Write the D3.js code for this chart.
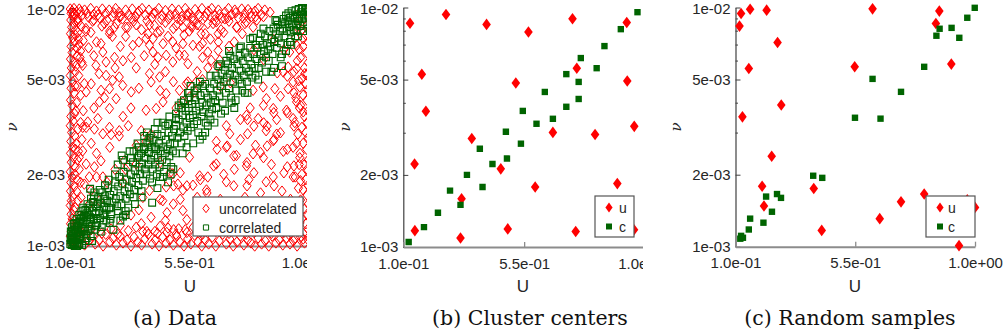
<!DOCTYPE html>
<html>
<head>
<meta charset="utf-8">
<script src="https://cdn.jsdelivr.net/npm/d3@7/dist/d3.min.js"></script>
<style>
  body { margin: 0; background: #fff; }
  svg { display: block; }
</style>
</head>
<body>
<svg id="fig" width="1008" height="336"></svg>
<script>
// nu values below are written in units of 1e-3 (so 2.5 means 2.5e-03)
const NU_UNIT = 1e-3;

// (a) Data -- uncorrelated samples [U, nu]
const dataUncorrelated = [
  // left edge
  [0.101,9.9],[0.104,9.5],[0.108,9.7],[0.112,9.2],[0.103,8.9],[0.115,8.6],[0.106,8.3],[0.121,8.1],[0.102,7.8],[0.110,7.5],
  [0.117,7.2],[0.104,6.9],[0.125,6.8],[0.108,6.5],[0.102,6.1],[0.114,5.9],[0.105,5.6],[0.120,5.4],[0.101,5.2],[0.110,4.9],
  [0.104,4.6],[0.116,4.4],[0.102,4.1],[0.108,3.9],[0.122,3.7],[0.103,3.5],[0.112,3.35],[0.101,3.2],[0.106,3.0],[0.118,2.9],
  [0.103,2.75],[0.110,2.6],[0.102,2.45],[0.114,2.35],[0.105,2.25],[0.120,2.15],[0.101,2.05],[0.108,1.95],[0.103,1.85],[0.116,1.78],
  [0.102,1.7],[0.110,1.62],[0.105,1.55],[0.101,1.48],[0.113,1.42],[0.104,1.36],[0.108,1.3],[0.102,1.24],[0.118,1.2],[0.105,1.15],
  [0.101,1.1],[0.111,1.06],[0.103,1.02],[0.13,9.0],[0.135,7.0],[0.128,4.7],[0.132,2.5],[0.127,1.9],[0.138,6.2],[0.14,3.3],
  [0.118,9.4],[0.126,8.9],[0.142,8.4],[0.12,7.7],[0.132,7.4],[0.127,6.3],[0.145,5.9],[0.122,5.7],[0.133,5.2],[0.119,4.7],
  [0.14,4.3],[0.125,4.0],[0.15,3.7],[0.117,3.6],[0.13,3.1],[0.145,2.8],[0.12,2.55],[0.128,2.3],[0.118,2.0],[0.14,1.85],
  [0.125,1.7],[0.13,1.55],[0.12,1.45],[0.135,1.33],[0.125,1.25],[0.14,1.15],[0.122,1.08],
  // top edge
  [0.115,9.95],[0.125,9.6],[0.135,9.9],[0.145,9.3],[0.155,9.8],[0.165,9.5],[0.178,9.95],[0.19,9.4],[0.2,9.7],[0.212,9.1],
  [0.222,9.9],[0.235,9.5],[0.248,9.8],[0.26,9.2],[0.272,9.95],[0.285,9.6],[0.298,9.0],[0.31,9.8],[0.322,9.4],[0.335,9.9],
  [0.348,9.2],[0.36,9.7],[0.372,9.95],[0.385,9.35],[0.398,9.8],[0.41,9.1],[0.422,9.6],[0.435,9.95],[0.448,9.3],[0.46,9.75],
  [0.472,9.0],[0.485,9.9],[0.498,9.45],[0.51,9.8],[0.522,9.2],[0.535,9.95],[0.548,9.55],[0.56,9.1],[0.572,9.85],[0.585,9.4],
  [0.598,9.95],[0.61,9.2],[0.622,9.7],[0.635,9.95],[0.648,9.3],[0.66,9.8],[0.672,9.05],[0.685,9.6],[0.698,9.95],[0.71,9.4],
  [0.722,9.8],[0.735,9.1],[0.748,9.9],[0.76,9.5],[0.772,9.85],[0.785,9.2],[0.798,9.7],[0.81,9.95],[0.822,9.4],[0.835,9.8],
  [0.13,8.7],[0.16,8.2],[0.185,8.8],[0.22,8.4],[0.25,8.0],[0.275,8.6],[0.31,8.3],[0.34,8.8],[0.37,8.1],[0.4,8.5],
  [0.43,7.9],[0.46,8.7],[0.49,8.2],[0.52,8.9],[0.55,8.0],[0.58,8.5],[0.61,7.8],[0.64,8.6],[0.67,8.1],[0.70,8.8],[0.73,8.3],[0.76,8.6],
  [0.112,9.45],[0.14,9.65],[0.17,9.15],[0.205,9.35],[0.24,8.9],[0.265,9.55],[0.292,9.25],[0.33,9.05],[0.355,9.5],[0.39,8.85],
  [0.415,9.5],[0.445,8.95],[0.478,9.35],[0.505,9.05],[0.54,9.35],[0.565,8.8],[0.59,9.2],[0.615,9.5],[0.645,8.9],[0.665,9.4],
  [0.695,9.1],[0.725,9.55],[0.755,9.05],[0.78,9.5],[0.805,8.9],[0.83,9.2],[0.855,9.6],
  // bottom edge
  [0.13,1.03],[0.14,1.08],[0.155,1.01],[0.17,1.05],[0.185,1.1],[0.195,1.02],[0.21,1.06],[0.225,1.0],[0.235,1.12],[0.25,1.04],
  [0.262,1.08],[0.275,1.01],[0.29,1.1],[0.3,1.03],[0.315,1.06],[0.33,1.0],[0.342,1.09],[0.355,1.04],[0.37,1.01],[0.382,1.07],
  [0.395,1.12],[0.41,1.02],[0.422,1.06],[0.436,1.0],[0.45,1.09],[0.462,1.03],[0.477,1.06],[0.49,1.01],[0.503,1.1],[0.515,1.04],
  [0.53,1.0],[0.544,1.07],[0.556,1.02],[0.57,1.11],[0.583,1.04],[0.597,1.0],[0.61,1.06],[0.623,1.02],[0.637,1.09],[0.65,1.0],
  [0.663,1.05],[0.676,1.12],[0.69,1.02],[0.703,1.07],[0.716,1.0],[0.73,1.04],[0.743,1.1],[0.756,1.01],[0.77,1.06],[0.783,1.03],
  [0.797,1.0],[0.81,1.08],[0.823,1.02],[0.837,1.05],[0.85,1.0],[0.863,1.1],[0.877,1.03],[0.89,1.06],[0.903,1.01],[0.917,1.08],
  [0.93,1.02],[0.943,1.05],[0.957,1.0],[0.97,1.09],[0.985,1.03],[0.998,1.06],
  [0.145,1.14],[0.18,1.17],[0.22,1.13],[0.255,1.18],[0.28,1.12],[0.32,1.16],[0.35,1.2],[0.39,1.15],[0.43,1.13],[0.47,1.19],
  [0.5,1.12],[0.535,1.17],[0.565,1.2],[0.6,1.12],[0.63,1.16],[0.66,1.2],[0.7,1.13],[0.735,1.18],[0.765,1.12],[0.8,1.16],
  [0.83,1.21],[0.86,1.13],[0.895,1.17],[0.925,1.12],[0.96,1.17],[0.98,1.07],
  // right edge
  [0.998,9.7],[0.985,9.0],[0.995,8.5],[0.975,8.1],[0.99,7.7],[0.998,7.2],[0.98,6.9],[0.993,6.5],[0.97,6.2],[0.999,5.9],
  [0.985,5.6],[0.995,5.3],[0.975,5.05],[0.99,4.8],[0.998,4.55],[0.98,4.3],[0.994,4.1],[0.97,3.9],[0.999,3.7],[0.985,3.5],
  [0.995,3.3],[0.975,3.15],[0.99,3.0],[0.998,2.85],[0.98,2.7],[0.993,2.55],[0.968,2.45],[0.999,2.3],[0.985,2.2],[0.995,2.1],
  [0.975,2.0],[0.99,1.9],[0.998,1.8],[0.98,1.72],[0.994,1.64],[0.97,1.56],[0.999,1.5],[0.985,1.43],[0.995,1.36],[0.975,1.3],
  [0.99,1.24],[0.998,1.18],[0.98,1.13],
  [0.955,9.3],[0.962,8.2],[0.95,7.5],[0.965,6.7],[0.958,6.0],[0.945,5.4],[0.963,4.95],[0.952,4.2],[0.966,3.8],[0.948,3.3],
  [0.96,2.95],[0.955,2.7],[0.965,2.2],[0.95,1.95],[0.962,1.75],[0.955,1.45],[0.968,1.25],[0.95,1.08],
  // interior
  [0.179,7.9],[0.217,7.08],[0.249,7.8],[0.268,8.3],[0.286,9.2],[0.318,8.3],[0.337,6.97],[0.331,6.2],[0.268,6.2],[0.236,5.93],
  [0.224,6.53],[0.198,5.74],[0.261,4.97],[0.236,5.21],[0.286,5.13],[0.299,4.73],[0.331,4.44],[0.249,4.58],[0.217,4.51],[0.211,4.03],
  [0.249,3.78],[0.274,4.16],[0.387,3.72],[0.205,3.43],[0.167,3.32],[0.148,5.74],[0.154,4.81],[0.161,4.44],[0.394,7.8],[0.387,7.43],
  [0.413,7.43],[0.419,8.45],[0.4,6.97],[0.413,6.53],[0.432,6.2],[0.451,7.08],[0.463,6.33],[0.488,7.2],[0.488,5.93],[0.513,6.33],
  [0.532,6.33],[0.526,7.08],[0.526,8.3],[0.501,8.45],[0.4,5.3],[0.406,4.89],[0.438,5.13],[0.463,4.37],[0.513,4.51],[0.539,4.81],
  [0.451,4.03],[0.425,3.78],[0.526,4.03],
  [0.545,9.3],[0.558,8.45],[0.589,8.45],[0.595,7.8],[0.62,8.6],[0.652,8.74],[0.659,7.8],[0.684,9.0],[0.728,8.3],[0.766,8.74],
  [0.791,8.3],[0.8,9.2],[0.564,6.97],[0.589,6.9],[0.62,6.53],[0.633,6.03],[0.659,6.63],[0.545,5.83],[0.665,6.03],[0.545,4.89],
  [0.57,4.44],[0.576,4.89],[0.791,4.51],[0.829,4.66],[0.873,4.58],[0.841,4.16],[0.923,4.58],[0.942,4.89],[0.967,4.66],[0.923,5.65],
  [0.955,5.56],[0.986,5.3],[0.905,5.38],[0.929,6.53],[0.955,6.97],[0.98,7.43],[0.867,3.78],[0.917,3.72],[0.955,4.03],[0.98,3.66],
  [0.942,3.43],[0.766,3.54],[0.77,3.4],[0.81,3.43],[0.551,4.23],
  [0.161,3.15],[0.192,3.1],[0.224,2.96],[0.255,2.94],[0.286,3.05],[0.286,2.9],[0.249,3.15],[0.148,3.15],[0.123,2.69],[0.148,2.51],
  [0.135,2.36],[0.161,2.21],[0.173,1.95],[0.135,2.1],[0.154,1.82],[0.179,1.71],[0.142,1.6],[0.173,1.5],[0.211,1.55],[0.192,2.15],
  [0.217,2.28],[0.224,1.95],[0.369,3.05],[0.406,2.94],[0.387,2.75],[0.305,2.28],[0.35,2.21],[0.31,2.1],[0.488,2.01],[0.507,1.82],
  [0.526,1.72],[0.463,1.77],[0.4,1.71],[0.375,1.6],[0.45,1.55],[0.49,1.5],[0.526,1.41],[0.406,1.32],[0.46,1.28],[0.369,1.24],
  [0.51,1.18],[0.42,1.15],[0.375,1.15],[0.465,1.14],
  [0.69,2.6],[0.652,2.21],[0.728,2.4],[0.766,2.17],[0.791,2.44],[0.8,2.65],[0.83,2.35],[0.867,2.77],[0.88,2.95],[0.84,3.05],
  [0.905,2.5],[0.942,2.6],[0.967,2.35],[0.92,2.15],[0.942,1.95],[0.97,1.88],[0.867,1.95],[0.84,1.86],[0.775,1.9],[0.69,1.86],
  [0.589,1.97],[0.564,1.8],[0.615,1.72],[0.551,2.36],[0.703,2.96],[0.77,2.96],[0.69,3.2],[0.652,2.75],
  [0.44,2.24],[0.478,2.03],[0.516,2.03],[0.541,1.79],[0.491,1.79],[0.44,1.57],[0.466,1.38],[0.516,1.57],[0.541,1.29],[0.592,1.47],
  [0.617,1.67],[0.592,1.9],[0.642,2.17],[0.655,2.55],[0.693,2.63],[0.718,2.39],[0.743,2.8],[0.768,2.24],[0.794,2.03],[0.819,2.47],
  [0.844,2.63],[0.87,2.8],[0.844,3.19],[0.894,2.99],[0.92,2.55],[0.945,2.17],[0.907,2.03],[0.87,1.79],[0.819,1.67],[0.768,1.79],
  [0.718,1.79],[0.667,1.57],[0.642,1.34],[0.693,1.38],[0.743,1.47],[0.794,1.38],[0.844,1.52],[0.882,1.38],[0.932,1.57],[0.945,1.34],
  [0.907,1.14],[0.844,1.17],[0.794,1.14],[0.718,1.17],[0.655,1.17],[0.592,1.14],[0.541,1.14],[0.491,1.17],[0.44,1.21],
  [0.655,5.69],[0.667,4.69],[0.705,4.85],[0.794,6.68],[0.831,6.07],[0.869,7.36],[0.907,6.68],[0.92,5.17],[0.945,4.4],[0.894,4.26],
  [0.869,3.63],[0.92,3.63],[0.945,3.19],[0.831,3.29],[0.794,3.19],[0.743,3.4],[0.882,5.34],
  [0.13,7.9],[0.15,7.3],[0.14,6.6],[0.16,8.0],[0.19,8.9],[0.2,7.2],[0.23,8.6],[0.26,7.6],[0.29,6.9],[0.31,7.6],
  [0.35,8.5],[0.36,7.2],[0.38,6.3],[0.44,8.0],[0.47,7.6],[0.5,6.8],[0.53,7.7],[0.56,8.3],[0.6,6.2],[0.63,7.4],
  [0.68,7.9],[0.72,7.2],[0.75,7.8],
  [0.17,6.8],[0.19,6.3],[0.21,5.3],[0.18,4.8],[0.23,4.2],[0.19,3.8],[0.3,3.5],[0.33,3.8],[0.36,4.6],[0.35,5.6],
  [0.3,6.0],[0.27,5.6],[0.42,5.8],[0.46,5.4],[0.49,4.9],[0.44,4.5],[0.5,3.8],[0.32,3.2],[0.35,2.65],[0.18,2.7],
  [0.2,2.45],[0.25,2.6],[0.27,2.1],[0.24,1.85],[0.2,1.95],[0.3,1.85],[0.33,1.35],[0.36,1.42],[0.29,1.22],[0.58,1.6],
  [0.62,1.95],[0.68,2.0],[0.72,2.1],[0.6,1.3],[0.7,1.5],[0.76,1.6],[0.86,2.2],[0.9,1.7],[0.88,3.4],[0.83,3.9],
  [0.78,3.8],[0.6,5.0],[0.62,5.6],[0.58,5.4],[0.7,6.9],[0.66,7.2],[0.6,7.1]
];

// (a) Data -- correlated samples [U, nu]
const dataCorrelated = [
  [0.101,1.02],[0.104,1.06],[0.106,1.01],[0.108,1.1],[0.11,1.04],[0.113,1.13],[0.115,1.01],[0.117,1.08],[0.119,1.17],[0.121,1.03],
  [0.124,1.11],[0.126,1.2],[0.128,1.06],[0.131,1.15],[0.133,1.25],[0.135,1.02],[0.137,1.1],[0.14,1.19],[0.142,1.3],[0.144,1.07],
  [0.147,1.16],[0.149,1.24],[0.152,1.12],[0.154,1.34],[0.157,1.2],[0.159,1.05],[0.162,1.28],[0.165,1.38],[0.167,1.16],[0.17,1.24],
  [0.173,1.45],[0.176,1.32],[0.178,1.1],[0.181,1.21],[0.184,1.4],[0.187,1.53],[0.19,1.29],[0.193,1.17],[0.196,1.36],[0.2,1.47],
  [0.203,1.25],[0.207,1.6],[0.21,1.4],[0.214,1.31],[0.218,1.52],[0.222,1.68],[0.225,1.37],[0.229,1.46],[0.233,1.62],[0.237,1.28],
  [0.24,1.55],[0.244,1.75],[0.248,1.44],[0.252,1.64],[0.256,1.36],[0.26,1.52],[0.176,1.74],[0.264,1.17],[0.28,1.4],[0.3,1.33],
  [0.12,1.25],[0.135,1.35],[0.11,1.15],[0.105,1.12],[0.102,1.08],[0.112,1.02],[0.118,1.0],[0.127,1.0],[0.14,1.1],[0.16,1.12],
  [0.18,1.3],[0.2,1.3],[0.23,1.35],[0.255,1.45],[0.15,1.45],[0.19,1.62],[0.22,1.2],[0.25,1.25],
  [0.103,1.15],[0.107,1.2],[0.109,1.07],[0.114,1.24],[0.116,1.17],[0.122,1.14],[0.125,1.3],[0.129,1.22],[0.132,1.02],[0.138,1.28],
  [0.143,1.4],[0.146,1.01],[0.151,1.32],[0.155,1.18],[0.158,1.42],[0.163,1.08],[0.166,1.5],[0.171,1.35],[0.174,1.18],[0.179,1.58],
  [0.183,1.05],[0.188,1.45],[0.192,1.68],[0.198,1.22],[0.205,1.5],[0.212,1.72],[0.216,1.15],[0.227,1.58],[0.232,1.8],[0.238,1.42],
  [0.246,1.9],[0.253,1.3],
  [0.265,1.7],[0.27,1.85],[0.273,1.58],[0.278,1.47],[0.282,1.78],[0.286,1.95],[0.29,1.62],[0.294,1.5],[0.298,1.83],[0.302,2.05],
  [0.306,1.7],[0.31,1.58],[0.314,1.9],[0.318,2.15],[0.322,1.76],[0.326,1.65],[0.33,2.0],[0.334,1.86],[0.338,2.25],[0.342,1.72],
  [0.346,2.08],[0.35,1.93],[0.354,2.35],[0.358,1.8],[0.362,2.15],[0.3,2.3],[0.32,1.45],[0.34,1.6],[0.29,1.28],
  [0.27,2.0],[0.31,1.4],[0.33,2.35],[0.37,1.7],[0.36,2.4],[0.34,2.5],
  [0.28,2.2],[0.295,2.4],[0.31,1.35],[0.325,2.5],[0.345,1.5],[0.355,2.7],[0.37,1.6],
  [0.365,2.0],[0.368,2.45],[0.372,2.22],[0.375,1.88],[0.378,2.6],[0.382,2.1],[0.385,2.35],[0.388,2.0],[0.392,2.7],[0.395,2.2],
  [0.398,2.48],[0.402,1.92],[0.405,2.3],[0.408,2.6],[0.412,2.1],[0.415,2.8],[0.418,2.4],[0.422,2.2],[0.425,2.55],[0.428,2.0],
  [0.432,2.35],[0.435,2.7],[0.438,2.15],[0.442,2.5],[0.445,2.9],[0.448,2.3],[0.452,2.6],[0.455,2.05],[0.458,2.45],[0.462,2.8],
  [0.465,2.25],[0.468,2.55],[0.472,3.0],[0.475,2.38],[0.478,2.68],[0.482,2.15],[0.485,2.9],[0.488,2.5],[0.492,3.1],[0.495,2.7],
  [0.41,1.52],[0.43,1.75],[0.47,1.85],[0.38,2.9],[0.42,3.1],[0.36,2.6],
  [0.4,2.75],[0.44,1.95],[0.46,3.2],[0.48,2.0],[0.38,2.55],[0.4,2.85],[0.43,2.95],[0.45,3.3],[0.47,3.25],[0.42,2.6],
  [0.39,3.0],[0.41,1.85],[0.43,3.3],[0.45,1.95],[0.475,3.5],[0.49,2.1],
  [0.5,3.2],[0.505,2.85],[0.51,3.4],[0.515,3.0],[0.52,2.7],[0.524,3.55],[0.528,3.15],[0.532,2.9],[0.536,3.7],[0.54,3.3],
  [0.544,3.05],[0.548,3.8],[0.552,3.45],[0.556,3.15],[0.56,3.95],[0.564,3.55],[0.568,3.25],[0.572,4.1],[0.576,3.7],[0.58,3.35],
  [0.584,3.0],[0.588,3.85],[0.592,4.3],[0.596,3.5],[0.6,4.0],[0.604,3.65],[0.608,4.4],[0.612,3.3],[0.616,3.9],[0.62,4.2],
  [0.624,3.6],[0.628,4.6],[0.632,4.0],[0.636,3.75],[0.64,4.3],[0.55,4.4],[0.58,4.6],[0.6,2.9],[0.53,4.1],[0.62,3.2],
  [0.5,2.45],[0.52,3.8],[0.54,2.6],[0.57,4.2],[0.59,2.8],[0.61,4.8],[0.63,3.4],[0.5,3.6],[0.52,4.0],[0.55,4.2],
  [0.57,4.5],[0.6,4.7],[0.5,3.45],[0.555,4.7],
  [0.51,3.9],[0.525,2.45],[0.545,4.4],[0.565,2.7],[0.59,4.9],[0.61,3.0],[0.63,5.2],
  [0.644,4.8],[0.648,4.1],[0.652,3.8],[0.656,4.5],[0.66,5.0],[0.664,4.25],[0.668,4.7],[0.672,5.3],[0.676,4.0],[0.68,4.9],
  [0.684,5.5],[0.688,4.4],[0.692,5.1],[0.696,5.8],[0.7,4.6],[0.704,5.3],[0.708,4.2],[0.712,5.6],[0.716,4.9],[0.72,6.1],
  [0.724,5.2],[0.728,4.5],[0.732,5.8],[0.736,5.0],[0.74,6.3],[0.744,5.45],[0.748,4.8],[0.752,6.0],[0.756,5.2],[0.76,6.5],
  [0.764,5.6],[0.768,4.9],[0.772,6.2],[0.776,5.4],[0.78,6.8],[0.784,5.8],[0.788,5.1],[0.792,6.4],[0.796,5.6],[0.8,7.0],
  [0.72,3.8],[0.76,4.4],[0.7,6.6],[0.66,5.7],
  [0.65,5.2],[0.67,3.6],[0.69,6.0],[0.71,4.0],[0.74,6.8],[0.75,4.5],[0.78,7.4],[0.8,5.2],
  [0.645,3.3],[0.665,5.8],[0.685,3.7],[0.705,6.3],[0.725,4.1],[0.745,6.9],[0.77,4.4],[0.79,7.5],
  [0.804,6.1],[0.808,6.8],[0.812,5.6],[0.816,7.3],[0.82,6.4],[0.824,5.9],[0.828,7.0],[0.832,6.6],[0.836,7.6],[0.84,6.2],
  [0.844,7.1],[0.848,6.7],[0.852,8.0],[0.856,6.9],[0.86,7.4],[0.864,6.4],[0.868,8.2],[0.872,7.2],[0.876,7.8],[0.88,6.8],
  [0.884,8.5],[0.888,7.5],[0.892,8.0],[0.896,7.1],[0.9,8.7],[0.87,5.6],[0.9,5.7],[0.84,5.4],
  [0.82,7.8],[0.85,6.0],[0.88,8.8],[0.9,6.4],[0.92,7.0],[0.95,7.6],[0.98,8.0],
  [0.81,5.0],[0.83,8.2],[0.86,5.4],[0.875,8.9],[0.895,6.2],[0.915,6.6],[0.935,7.0],[0.955,8.0],
  [0.903,8.2],[0.906,9.0],[0.909,7.6],[0.912,8.6],[0.915,9.3],[0.918,8.0],[0.921,8.8],[0.924,9.5],[0.927,8.3],[0.93,9.1],
  [0.933,7.9],[0.936,9.7],[0.939,8.6],[0.942,9.3],[0.945,8.1],[0.948,9.0],[0.951,9.8],[0.954,8.5],[0.957,9.4],[0.96,8.8],
  [0.963,9.9],[0.966,9.1],[0.969,8.4],[0.972,9.6],[0.975,9.0],[0.978,9.95],[0.981,8.7],[0.984,9.4],[0.987,9.8],[0.99,9.1],
  [0.993,9.6],[0.996,9.9],[0.999,9.3],[0.999,8.2],[0.96,7.6],[0.93,7.2],[0.99,10.0],[0.975,10.0]
];

// (b) Cluster centers [U, nu]
const centersU = [
  [0.125,8.6],[0.259,9.35],[0.41,8.5],[0.566,7.9],[0.73,8.97],[0.932,8.66],[0.169,5.26],[0.184,3.69],[0.519,4.84],[0.746,5.58],
  [0.934,4.93],[0.96,3.19],[0.355,2.84],[0.657,3.01],[0.814,2.95],[0.142,2.22],[0.463,2.12],[0.591,1.78],[0.897,1.84],[0.317,1.59],
  [0.143,1.17],[0.489,1.19],[0.742,1.16],[0.313,1.09],[0.959,1.18]
];
const centersC = [
  [0.12,1.05],[0.177,1.21],[0.229,1.39],[0.274,1.72],[0.313,1.5],[0.337,2.0],[0.395,1.78],[0.385,2.57],[0.432,2.22],[0.486,2.34],
  [0.482,3.03],[0.538,2.7],[0.545,3.7],[0.596,3.27],[0.627,4.44],[0.657,3.43],[0.707,3.85],[0.707,5.27],[0.753,4.15],[0.753,4.89],
  [0.761,6.15],[0.82,5.58],[0.849,6.9],[0.91,8.12],[0.972,9.56]
];

// (c) Random samples [U, nu]
const samplesU = [
  [0.121,9.44],[0.155,9.84],[0.217,9.75],[0.115,8.36],[0.258,7.14],[0.15,5.56],[0.272,3.91],[0.126,3.49],[0.236,2.39],[0.2,1.79],
  [0.207,1.48],[0.394,1.75],[0.424,1.17],[0.615,9.87],[0.548,5.65],[0.866,9.66],[0.853,8.57],[0.911,5.8],[0.642,1.31],[0.722,1.54],
  [0.809,1.66],[0.971,1.57],[1.0,1.46],[0.94,1.01]
];
const samplesC = [
  [0.118,1.08],[0.128,1.09],[0.121,1.11],[0.15,1.18],[0.155,1.31],[0.205,1.26],[0.237,1.4],[0.215,1.62],[0.256,1.66],[0.271,1.6],
  [0.392,1.98],[0.426,1.94],[0.549,3.46],[0.645,3.43],[0.615,5.03],[0.722,4.44],[0.809,5.65],[0.855,7.62],[0.867,8.15],[0.912,8.22],
  [0.941,7.47],[0.971,9.06],[0.999,9.97]
];

// axis ticks
const xDomain = [0.1, 1.0];
const yDomain = [1e-3, 1e-2];
const xTicks = [0.1, 0.55, 1.0];
const xTickLabels = ["1.0e-01", "5.5e-01", "1.0e+00"];
const yTicks = [1e-3, 2e-3, 5e-3, 1e-2];
const yTickLabels = ["1e-03", "2e-03", "5e-03", "1e-02"];
const yMinorTicks = [3e-3, 4e-3, 6e-3, 7e-3, 8e-3, 9e-3];

const RED = '#ff0000';
const GREEN = '#006400';

const toPoints = arr => arr.map(([u, n]) => ({ u: u, nu: n * NU_UNIT }));

// layout of the three sub-figures (pixel geometry only)
const panels = [
  { key: 'a', left: 70, right: 308.5, top: 8, bottom: 246, clipRight: 307,
    red: toPoints(dataUncorrelated), green: toPoints(dataCorrelated), hollow: true,
    labels: ['uncorrelated', 'correlated'], legend: { x: 193, y: 197, w: 110, h: 39, mx: 206, tx: 219 },
    nuX: 13, uX: 190, caption: '(a) Data', capX: 175 },
  { key: 'b', left: 403.3, right: 645, top: 7.5, bottom: 247, clipRight: 643,
    red: toPoints(centersU), green: toPoints(centersC), hollow: false,
    labels: ['u', 'c'], legend: { x: 595, y: 196, w: 39, h: 41, mx: 609, tx: 619 },
    nuX: 346, uX: 523, caption: '(b) Cluster centers', capX: 530 },
  { key: 'c', left: 735.5, right: 975, top: 7.5, bottom: 246.7, clipRight: null,
    red: toPoints(samplesU), green: toPoints(samplesC), hollow: false,
    labels: ['u', 'c'], legend: { x: 926, y: 196, w: 49, h: 41, mx: 940, tx: 948 },
    nuX: 677, uX: 855, caption: '(c) Random samples', capX: 850 }
];

const svg = d3.select('#fig');
const defs = svg.append('defs');

// marker shapes
const diamondPath = (hw, hh) => `M0,${-hh}L${hw},0L0,${hh}L${-hw},0Z`;
const squarePath = s => `M${-s},${-s}H${s}V${s}H${-s}Z`;

function drawPanel(p) {
  const g = svg.append('g').attr('class', 'panel-' + p.key);
  if (p.clipRight) {
    defs.append('clipPath').attr('id', 'clip-' + p.key)
      .append('rect').attr('x', p.left - 80).attr('y', 0)
      .attr('width', p.clipRight - (p.left - 80)).attr('height', 336);
    g.attr('clip-path', `url(#clip-${p.key})`);
  }

  const x = d3.scaleLinear().domain(xDomain).range([p.left, p.right]);
  const y = d3.scaleLog().domain(yDomain).range([p.bottom, p.top]);

  // axes (ticks point inward)
  const yAxis = g.append('g').attr('transform', `translate(${p.left},0)`)
    .call(d3.axisLeft(y).tickValues(yTicks).tickFormat((d, i) => yTickLabels[i])
      .tickSizeInner(-5).tickSizeOuter(0).tickPadding(5));
  g.append('g').attr('transform', `translate(${p.left},0)`)
    .call(d3.axisLeft(y).tickValues(yMinorTicks).tickFormat('')
      .tickSizeInner(-2.5).tickSizeOuter(0))
    .call(s => s.select('.domain').remove())
    .selectAll('line').attr('stroke', '#404040');
  yAxis.select('.domain').attr('stroke', p.hollow ? '#7a7a7a' : '#404040')
    .attr('stroke-width', p.hollow ? 2 : 1.2);
  yAxis.selectAll('line').attr('stroke', '#404040');
  // keep the top label inside the picture
  yAxis.selectAll('.tick text').attr('y', d => (d === yDomain[1] ? 1.5 : 0));

  const xAxis = g.append('g').attr('transform', `translate(0,${p.bottom})`)
    .call(d3.axisBottom(x).tickValues(xTicks).tickFormat((d, i) => xTickLabels[i])
      .tickSizeInner(-5).tickSizeOuter(0).tickPadding(11));
  xAxis.select('.domain').attr('stroke', '#8c8c8c').attr('stroke-width', 2);
  xAxis.selectAll('line').attr('stroke', '#8c8c8c').attr('stroke-width', 1.3);

  g.selectAll('.tick text')
    .attr('font-family', '"Liberation Sans", Arial, sans-serif')
    .attr('font-size', 15).attr('fill', '#262626');

  // points: uncorrelated first, correlated on top
  const red = g.append('g');
  const green = g.append('g');
  if (p.hollow) {
    red.selectAll('path').data(p.red).join('path')
      .attr('d', diamondPath(4.1, 5.2))
      .attr('transform', d => `translate(${x(d.u)},${y(d.nu)})`)
      .attr('fill', 'none').attr('stroke', RED).attr('stroke-width', 1);
    green.selectAll('path').data(p.green).join('path')
      .attr('d', squarePath(3.4))
      .attr('transform', d => `translate(${x(d.u)},${y(d.nu)})`)
      .attr('fill', 'none').attr('stroke', GREEN).attr('stroke-width', 1.1);
  } else {
    red.selectAll('path').data(p.red).join('path')
      .attr('d', diamondPath(4.3, 5.8))
      .attr('transform', d => `translate(${x(d.u)},${y(d.nu)})`)
      .attr('fill', RED);
    green.selectAll('path').data(p.green).join('path')
      .attr('d', squarePath(3.2))
      .attr('transform', d => `translate(${x(d.u)},${y(d.nu)})`)
      .attr('fill', GREEN);
  }

  // legend
  const L = p.legend;
  const lg = g.append('g');
  lg.append('rect').attr('x', L.x).attr('y', L.y).attr('width', L.w).attr('height', L.h)
    .attr('fill', '#fff').attr('stroke', '#555').attr('stroke-width', 1.2);
  const rowY = [L.y + 11.5, L.y + 30.5];
  if (p.hollow) {
    lg.append('path').attr('d', diamondPath(3.2, 4.2))
      .attr('transform', `translate(${L.mx},${rowY[0]})`)
      .attr('fill', 'none').attr('stroke', RED);
    lg.append('path').attr('d', squarePath(2.6))
      .attr('transform', `translate(${L.mx},${rowY[1]})`)
      .attr('fill', 'none').attr('stroke', GREEN);
  } else {
    lg.append('path').attr('d', diamondPath(3.6, 5))
      .attr('transform', `translate(${L.mx},${rowY[0]})`).attr('fill', RED);
    lg.append('path').attr('d', squarePath(3))
      .attr('transform', `translate(${L.mx},${rowY[1]})`).attr('fill', GREEN);
  }
  lg.selectAll('text').data(p.labels).join('text')
    .attr('x', L.tx).attr('y', (d, i) => rowY[i] + 5)
    .attr('font-family', '"Liberation Sans", Arial, sans-serif')
    .attr('font-size', 14).attr('fill', '#262626')
    .text(d => d);

  // axis titles
  g.append('text').attr('x', p.uX).attr('y', 292).attr('text-anchor', 'middle')
    .attr('font-family', '"Liberation Sans", Arial, sans-serif')
    .attr('font-size', 17).attr('fill', '#262626').text('U');
  g.append('text').attr('transform', `translate(${p.nuX + 4},127) rotate(-90)`)
    .attr('text-anchor', 'middle')
    .attr('font-family', '"DejaVu Serif", serif').attr('font-style', 'italic')
    .attr('font-size', 15).attr('fill', '#262626').text('ν');

  // caption
  svg.append('text').attr('x', p.capX).attr('y', 325).attr('text-anchor', 'middle')
    .attr('font-family', '"DejaVu Serif", serif').attr('font-size', 20.5)
    .attr('fill', '#111').text(p.caption);
}

panels.forEach(drawPanel);
</script>
</body>
</html>
